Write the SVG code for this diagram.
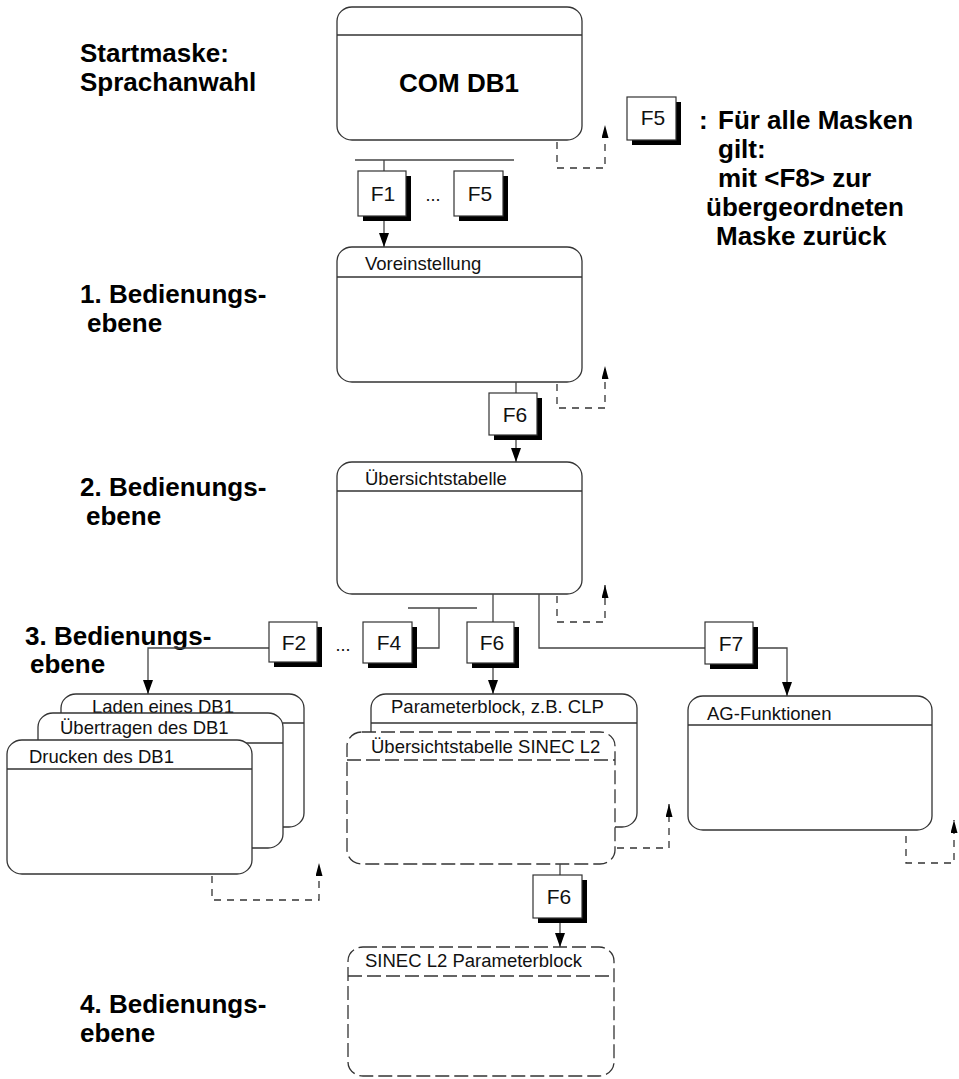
<svg xmlns="http://www.w3.org/2000/svg" width="959" height="1079" viewBox="0 0 959 1079">
  <style>
    .box { fill: #fff; stroke: #333; stroke-width: 1.3; }
    .dbox { fill: #fff; stroke: #333; stroke-width: 1.3; stroke-dasharray: 14 5; }
    .hdr { stroke: #333; stroke-width: 1.3; fill: none; }
    .dhdr { stroke: #333; stroke-width: 1.3; fill: none; stroke-dasharray: 14 5; }
    .title { font-family: "Liberation Sans", Arial, sans-serif; font-size: 18.5px; fill: #111; }
    .big { font-family: "Liberation Sans", Arial, sans-serif; font-size: 26px; font-weight: bold; fill: #000; }
    .lbl { font-family: "Liberation Sans", Arial, sans-serif; font-size: 26px; font-weight: bold; fill: #000; }
    .key rect.k { fill: #fff; stroke: #333; stroke-width: 1.2; }
    .key rect.s { fill: #000; }
    .key text { font-family: "Liberation Sans", Arial, sans-serif; font-size: 21px; fill: #111; text-anchor: middle; }
    .dots { font-family: "Liberation Sans", Arial, sans-serif; font-size: 18px; fill: #111; text-anchor: middle; }
    .wire { fill: none; stroke: #444; stroke-width: 1.3; }
    .back { fill: none; stroke: #333; stroke-width: 1.3; stroke-dasharray: 7 6; }
  </style>
  <defs>
    <marker id="arr" viewBox="0 0 14 10" refX="14" refY="5" markerWidth="14" markerHeight="10" markerUnits="userSpaceOnUse" orient="auto">
      <path d="M0,0 L14,5 L0,10 z" fill="#000"/>
    </marker>
    <marker id="arrS" viewBox="0 0 13 7" refX="13" refY="3.5" markerWidth="13" markerHeight="7" markerUnits="userSpaceOnUse" orient="auto">
      <path d="M0,0 L13,3.5 L0,7 z" fill="#000"/>
    </marker>
  </defs>

  <!-- level labels -->
  <g id="labels">
    <text class="lbl" x="80" y="62">Startmaske:</text>
    <text class="lbl" x="80" y="91">Sprachanwahl</text>
    <text class="lbl" x="80" y="303">1. Bedienungs-</text>
    <text class="lbl" x="87" y="332">ebene</text>
    <text class="lbl" x="80" y="496">2. Bedienungs-</text>
    <text class="lbl" x="86" y="525">ebene</text>
    <text class="lbl" x="25" y="645">3. Bedienungs-</text>
    <text class="lbl" x="30" y="673">ebene</text>
    <text class="lbl" x="80" y="1013">4. Bedienungs-</text>
    <text class="lbl" x="80" y="1042">ebene</text>
  </g>

  <!-- legend -->
  <g id="legend">
    <g class="key">
      <rect class="s" x="632" y="102" width="49" height="43"/>
      <rect class="k" x="627" y="97" width="49" height="43"/>
      <text x="653" y="125">F5</text>
    </g>
    <text class="lbl" x="699" y="129">:</text>
    <text class="lbl" x="718" y="129">Für alle Masken</text>
    <text class="lbl" x="718" y="158">gilt:</text>
    <text class="lbl" x="718" y="187">mit &lt;F8&gt; zur</text>
    <text class="lbl" x="706" y="216">übergeordneten</text>
    <text class="lbl" x="716" y="245">Maske zurück</text>
  </g>

  <!-- masks -->
  <g id="com-db1">
    <rect class="box" x="337" y="7" width="245" height="133" rx="15" ry="14"/>
    <line class="hdr" x1="337" y1="35" x2="582" y2="35"/>
    <text class="big" x="459" y="92" text-anchor="middle">COM DB1</text>
  </g>

  <g id="voreinstellung">
    <rect class="box" x="337" y="247" width="245" height="135" rx="15" ry="14"/>
    <line class="hdr" x1="337" y1="277" x2="582" y2="277"/>
    <text class="title" x="365" y="270">Voreinstellung</text>
  </g>

  <g id="uebersichtstabelle">
    <rect class="box" x="337" y="462" width="245" height="132" rx="15" ry="14"/>
    <line class="hdr" x1="337" y1="491" x2="582" y2="491"/>
    <text class="title" x="365" y="485">Übersichtstabelle</text>
  </g>

  <g id="laden">
    <rect class="box" x="61" y="694" width="243" height="133" rx="15" ry="14"/>
    <line class="hdr" x1="61" y1="723" x2="304" y2="723"/>
    <text class="title" x="92" y="713">Laden eines DB1</text>
  </g>
  <g id="uebertragen">
    <rect class="box" x="38" y="713" width="245" height="135" rx="15" ry="14"/>
    <line class="hdr" x1="38" y1="743" x2="283" y2="743"/>
    <text class="title" x="60" y="734">Übertragen des DB1</text>
  </g>
  <g id="drucken">
    <rect class="box" x="7" y="740" width="245" height="134" rx="15" ry="14"/>
    <line class="hdr" x1="7" y1="769" x2="252" y2="769"/>
    <text class="title" x="29" y="763">Drucken des DB1</text>
  </g>

  <g id="parameterblock">
    <rect class="box" x="371" y="694" width="266" height="133" rx="15" ry="14"/>
    <line class="hdr" x1="371" y1="723" x2="637" y2="723"/>
    <text class="title" x="391" y="713">Parameterblock, z.B. CLP</text>
  </g>
  <g id="uebersicht-sinec">
    <rect class="dbox" x="347" y="732" width="268" height="132" rx="15" ry="14"/>
    <line class="dhdr" x1="347" y1="760" x2="615" y2="760"/>
    <text class="title" x="371" y="753">Übersichtstabelle SINEC L2</text>
  </g>

  <g id="ag-funktionen">
    <rect class="box" x="688" y="696" width="244" height="134" rx="15" ry="14"/>
    <line class="hdr" x1="688" y1="725" x2="932" y2="725"/>
    <text class="title" x="707" y="720">AG-Funktionen</text>
  </g>

  <g id="sinec-parameterblock">
    <rect class="dbox" x="348" y="947" width="266" height="129" rx="15" ry="14"/>
    <line class="dhdr" x1="348" y1="976" x2="614" y2="976"/>
    <text class="title" x="365" y="967">SINEC L2 Parameterblock</text>
  </g>

  <!-- connectors -->
  <g id="connectors">
    <!-- COM DB1 to level 1 -->
    <line class="wire" x1="355" y1="160" x2="514" y2="160"/>
    <line class="wire" x1="384" y1="160" x2="384" y2="171"/>
    <line class="wire" x1="384" y1="216" x2="384" y2="247" marker-end="url(#arr)"/>
    <!-- level 1 to level 2 -->
    <line class="wire" x1="516" y1="382" x2="516" y2="393"/>
    <line class="wire" x1="516" y1="435" x2="516" y2="462" marker-end="url(#arr)"/>
    <!-- level 2 to level 3 -->
    <line class="wire" x1="408" y1="608" x2="477" y2="608"/>
    <polyline class="wire" points="439,608 439,648 416,648"/>
    <polyline class="wire" points="269,648 148,648 148,694" marker-end="url(#arr)"/>
    <line class="wire" x1="493" y1="594" x2="493" y2="622"/>
    <line class="wire" x1="493" y1="663" x2="493" y2="694" marker-end="url(#arr)"/>
    <polyline class="wire" points="539,594 539,648 705,648"/>
    <polyline class="wire" points="753,648 787,648 787,696" marker-end="url(#arr)"/>
    <!-- level 3 to level 4 -->
    <line class="wire" x1="560" y1="864" x2="560" y2="875"/>
    <line class="wire" x1="560" y1="918" x2="560" y2="947" marker-end="url(#arr)"/>

    <!-- returns with F8 -->
    <polyline class="back" points="557,142 557,168 605,168 605,125" marker-end="url(#arrS)"/>
    <polyline class="back" points="557,384 557,408 605,408 605,366" marker-end="url(#arrS)"/>
    <polyline class="back" points="557,596 557,622 605,622 605,585" marker-end="url(#arrS)"/>
    <polyline class="back" points="212,876 212,900 319,900 319,863" marker-end="url(#arrS)"/>
    <polyline class="back" points="617,848 669,848 669,804" marker-end="url(#arrS)"/>
    <polyline class="back" points="906,836 906,863 954,863 954,820" marker-end="url(#arrS)"/>
  </g>

  <!-- function keys -->
  <g id="key-f1" class="key">
    <rect class="s" x="363" y="176" width="48" height="45"/>
    <rect class="k" x="358" y="171" width="48" height="45"/>
    <text x="383" y="201">F1</text>
  </g>
  <text class="dots" x="433" y="201">...</text>
  <g id="key-f5" class="key">
    <rect class="s" x="459" y="176" width="49" height="45"/>
    <rect class="k" x="454" y="171" width="49" height="45"/>
    <text x="480" y="201">F5</text>
  </g>
  <g id="key-f6a" class="key">
    <rect class="s" x="494" y="398" width="48" height="42"/>
    <rect class="k" x="489" y="393" width="48" height="42"/>
    <text x="515" y="422">F6</text>
  </g>
  <g id="key-f2" class="key">
    <rect class="s" x="274" y="627" width="48" height="40"/>
    <rect class="k" x="269" y="622" width="48" height="40"/>
    <text x="294" y="650">F2</text>
  </g>
  <text class="dots" x="343" y="651">...</text>
  <g id="key-f4" class="key">
    <rect class="s" x="368" y="627" width="49" height="41"/>
    <rect class="k" x="363" y="622" width="49" height="41"/>
    <text x="389" y="650">F4</text>
  </g>
  <g id="key-f6b" class="key">
    <rect class="s" x="472" y="627" width="47" height="41"/>
    <rect class="k" x="467" y="622" width="47" height="41"/>
    <text x="492" y="650">F6</text>
  </g>
  <g id="key-f7" class="key">
    <rect class="s" x="710" y="627" width="48" height="42"/>
    <rect class="k" x="705" y="622" width="48" height="42"/>
    <text x="731" y="651">F7</text>
  </g>
  <g id="key-f6c" class="key">
    <rect class="s" x="538" y="880" width="49" height="43"/>
    <rect class="k" x="533" y="875" width="49" height="43"/>
    <text x="559" y="904">F6</text>
  </g>
</svg>
